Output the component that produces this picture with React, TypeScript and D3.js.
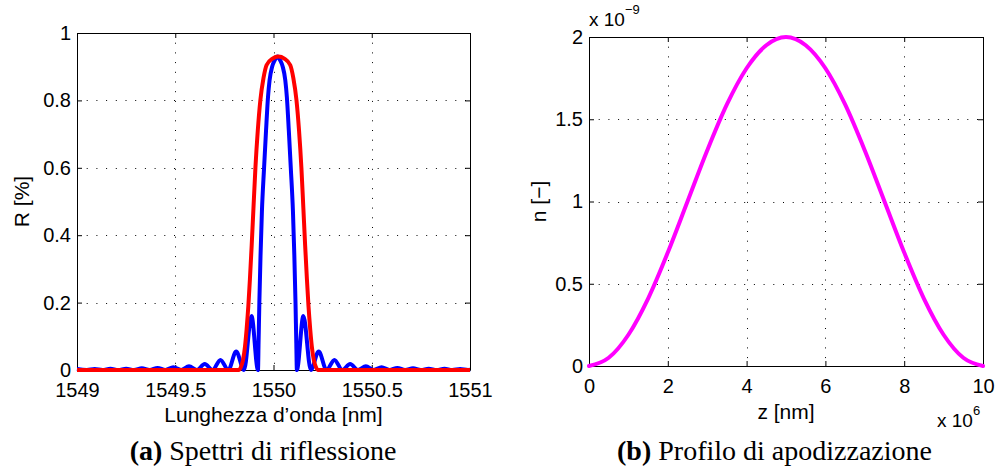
import React, { useEffect, useRef } from "react";
import * as d3 from "d3";

// (a) reflection spectra
const wlTicks = [1549, 1549.5, 1550, 1550.5, 1551];
const rTicks = [0, 0.2, 0.4, 0.6, 0.8, 1];

// uniform grating (blue)
const uniformWl = [
  1549.0, 1549.05, 1549.09, 1549.13, 1549.17, 1549.21, 1549.25, 1549.29, 1549.33, 1549.37,
  1549.41, 1549.45, 1549.49, 1549.53, 1549.57, 1549.61, 1549.65, 1549.69, 1549.73, 1549.77,
  1549.81, 1549.85, 1549.888, 1549.921, 1549.924, 1549.928, 1549.934, 1549.941, 1549.952, 1549.962,
  1549.972, 1549.98, 1549.993, 1550.005, 1550.02, 1550.035, 1550.047, 1550.06, 1550.068, 1550.078,
  1550.088, 1550.099, 1550.106, 1550.112, 1550.116, 1550.119, 1550.152, 1550.19, 1550.23, 1550.27,
  1550.31, 1550.35, 1550.39, 1550.43, 1550.47, 1550.51, 1550.55, 1550.59, 1550.63, 1550.67,
  1550.71, 1550.75, 1550.79, 1550.83, 1550.87, 1550.91, 1550.95, 1550.99, 1551.0,
];
const uniformR = [
  0.003, 0, 0.003, 0, 0.0035, 0, 0.004, 0, 0.005, 0,
  0.006, 0, 0.008, 0, 0.011, 0, 0.018, 0, 0.03, 0,
  0.055, 0, 0.16, 0, 0.08, 0.2, 0.34, 0.47, 0.6, 0.71,
  0.81, 0.86, 0.9, 0.918, 0.93, 0.918, 0.9, 0.86, 0.81, 0.71,
  0.6, 0.47, 0.34, 0.2, 0.08, 0, 0.16, 0, 0.055, 0,
  0.03, 0, 0.018, 0, 0.011, 0, 0.008, 0, 0.006, 0,
  0.005, 0, 0.004, 0, 0.0035, 0, 0.003, 0, 0.0005,
];

// apodized grating (red)
const apodWl = [
  1549.0, 1549.825, 1549.835, 1549.845, 1549.855, 1549.863, 1549.872, 1549.88, 1549.889, 1549.898,
  1549.908, 1549.92, 1549.933, 1549.949, 1549.965, 1549.995, 1550.025, 1550.055, 1550.085, 1550.101,
  1550.117, 1550.13, 1550.142, 1550.152, 1550.161, 1550.17, 1550.178, 1550.187, 1550.195, 1550.205,
  1550.215, 1550.225, 1551.0,
];
const apodR = [
  0, 0, 0.01, 0.03, 0.07, 0.12, 0.19, 0.27, 0.37, 0.48,
  0.6, 0.71, 0.8, 0.866, 0.905, 0.924, 0.93, 0.924, 0.905, 0.866,
  0.8, 0.71, 0.6, 0.48, 0.37, 0.27, 0.19, 0.12, 0.07, 0.03,
  0.01, 0, 0,
];

// (b) apodization profile, z in 1e6 nm, n in 1e-9
const zTicks = [0, 2, 4, 6, 8, 10];
const nTicks = [0, 0.5, 1, 1.5, 2];
const zPos = [0, 0.5, 1, 1.5, 2, 2.5, 3, 3.5, 4, 4.5, 5, 5.5, 6, 6.5, 7, 7.5, 8, 8.5, 9, 9.5, 10];
const nProfile = [
  0, 0.05, 0.19, 0.41, 0.69, 1.0, 1.31, 1.59, 1.81, 1.95, 2.0,
  1.95, 1.81, 1.59, 1.31, 1.0, 0.69, 0.41, 0.19, 0.05, 0,
];

const W = 998;
const H = 474;
const sans = "'Liberation Sans', Arial, Helvetica, sans-serif";
const serif = "'Liberation Serif', 'Times New Roman', serif";

const App = () => {
  const ref = useRef<SVGSVGElement>(null);

  useEffect(() => {
    const svg = d3.select(ref.current);
    svg.selectAll("*").remove();
    svg.append("rect").attr("width", W).attr("height", H).attr("fill", "#fff");

    //frame with grid, box and inward ticks, returns the scales
    const frame = (
      box: { left: number; right: number; top: number; bottom: number },
      xDomain: number[],
      yDomain: number[],
      xTicks: number[],
      yTicks: number[]
    ) => {
      const x = d3.scaleLinear().domain(xDomain).range([box.left, box.right]);
      const y = d3.scaleLinear().domain(yDomain).range([box.bottom, box.top]);
      const g = svg.append("g");

      g.append("g")
        .selectAll("line")
        .data(xTicks.filter((t) => t > xDomain[0] && t < xDomain[1]))
        .join("line")
        .attr("x1", (d) => Math.round(x(d)) + 0.5)
        .attr("x2", (d) => Math.round(x(d)) + 0.5)
        .attr("y1", box.top)
        .attr("y2", box.bottom)
        .attr("stroke", "#000")
        .attr("stroke-dasharray", "1,8.7");
      g.append("g")
        .selectAll("line")
        .data(yTicks.filter((t) => t > yDomain[0] && t < yDomain[1]))
        .join("line")
        .attr("y1", (d) => Math.round(y(d)) + 0.5)
        .attr("y2", (d) => Math.round(y(d)) + 0.5)
        .attr("x1", box.left)
        .attr("x2", box.right)
        .attr("stroke", "#000")
        .attr("stroke-dasharray", "1,8.7");

      const fmt = (d: any) => String(d);
      g.append("g")
        .attr("transform", `translate(0,${box.bottom})`)
        .call(d3.axisBottom(x).tickValues(xTicks).tickSizeInner(-5).tickSizeOuter(0).tickPadding(13).tickFormat(fmt));
      g.append("g")
        .attr("transform", `translate(0,${box.top})`)
        .call(d3.axisTop(x).tickValues(xTicks).tickSizeInner(-5).tickSizeOuter(0).tickFormat(() => ""));
      g.append("g")
        .attr("transform", `translate(${box.left},0)`)
        .call(d3.axisLeft(y).tickValues(yTicks).tickSizeInner(-5).tickSizeOuter(0).tickPadding(6).tickFormat(fmt));
      g.append("g")
        .attr("transform", `translate(${box.right},0)`)
        .call(d3.axisRight(y).tickValues(yTicks).tickSizeInner(-5).tickSizeOuter(0).tickFormat(() => ""));

      g.selectAll(".tick text")
        .attr("font-size", 20)
        .attr("font-family", sans)
        .attr("fill", "#000");
      g.selectAll(".domain, .tick line").attr("stroke", "#000");
      return { x, y };
    };

    //panel (a)
    const boxA = { left: 77, right: 470, top: 33, bottom: 370 };
    const a = frame(boxA, [1549, 1551], [0, 1], wlTicks, rTicks);
    const lineA = (wl: number[]) =>
      d3
        .line<number>()
        .x((d, i) => a.x(wl[i]))
        .y((d) => a.y(d))
        .curve(d3.curveMonotoneX);
    svg.append("path")
      .attr("d", lineA(uniformWl)(uniformR))
      .attr("fill", "none")
      .attr("stroke", "#0000ff")
      .attr("stroke-width", 4)
      .attr("stroke-linejoin", "round");
    svg.append("path")
      .attr("d", lineA(apodWl)(apodR))
      .attr("fill", "none")
      .attr("stroke", "#ff0000")
      .attr("stroke-width", 4)
      .attr("stroke-linejoin", "round");

    svg.append("text")
      .attr("x", (boxA.left + boxA.right) / 2)
      .attr("y", boxA.bottom + 52)
      .attr("text-anchor", "middle")
      .attr("font-family", sans)
      .attr("font-size", 21)
      .text("Lunghezza d\u2019onda [nm]");
    svg.append("text")
      .attr("transform", `translate(29,${(boxA.top + boxA.bottom) / 2}) rotate(-90)`)
      .attr("text-anchor", "middle")
      .attr("font-family", sans)
      .attr("font-size", 21)
      .text("R [%]");

    //panel (b)
    const boxB = { left: 589, right: 983, top: 37, bottom: 366 };
    const b = frame(boxB, [0, 10], [0, 2], zTicks, nTicks);
    svg.append("path")
      .attr(
        "d",
        d3
          .line<number>()
          .x((d, i) => b.x(zPos[i]))
          .y((d) => b.y(d))
          .curve(d3.curveMonotoneX)(nProfile)
      )
      .attr("fill", "none")
      .attr("stroke", "#ff00ff")
      .attr("stroke-width", 4)
      .attr("stroke-linecap", "round");

    svg.append("text")
      .attr("x", (boxB.left + boxB.right) / 2)
      .attr("y", boxB.bottom + 53)
      .attr("text-anchor", "middle")
      .attr("font-family", sans)
      .attr("font-size", 21)
      .text("z [nm]");
    svg.append("text")
      .attr("transform", `translate(546,${(boxB.top + boxB.bottom) / 2}) rotate(-90)`)
      .attr("text-anchor", "middle")
      .attr("font-family", sans)
      .attr("font-size", 21)
      .text("n [\u2212]");

    //exponent labels
    const expTop = svg.append("text").attr("x", boxB.left).attr("y", 26).attr("font-family", sans).attr("font-size", 19);
    expTop.append("tspan").text("x 10");
    expTop.append("tspan").attr("dy", -12).attr("font-size", 13).text("\u22129");
    const expBottom = svg.append("text").attr("x", 937).attr("y", 427).attr("font-family", sans).attr("font-size", 19);
    expBottom.append("tspan").text("x 10");
    expBottom.append("tspan").attr("dy", -12).attr("font-size", 13).text("6");

    //captions
    const caption = (cx: number, tag: string, label: string) => {
      const t = svg.append("text")
        .attr("x", cx)
        .attr("y", 460)
        .attr("text-anchor", "middle")
        .attr("font-family", serif)
        .attr("font-size", 28);
      t.append("tspan").attr("font-weight", "bold").text(tag);
      t.append("tspan").text(" " + label);
    };
    caption(263, "(a)", "Spettri di riflessione");
    caption(774.5, "(b)", "Profilo di apodizzazione");
  }, []);

  return (
    <svg
      ref={ref}
      width={W}
      height={H}
      style={{ position: "absolute", left: 0, top: 0, display: "block" }}
    />
  );
};

export default App;
